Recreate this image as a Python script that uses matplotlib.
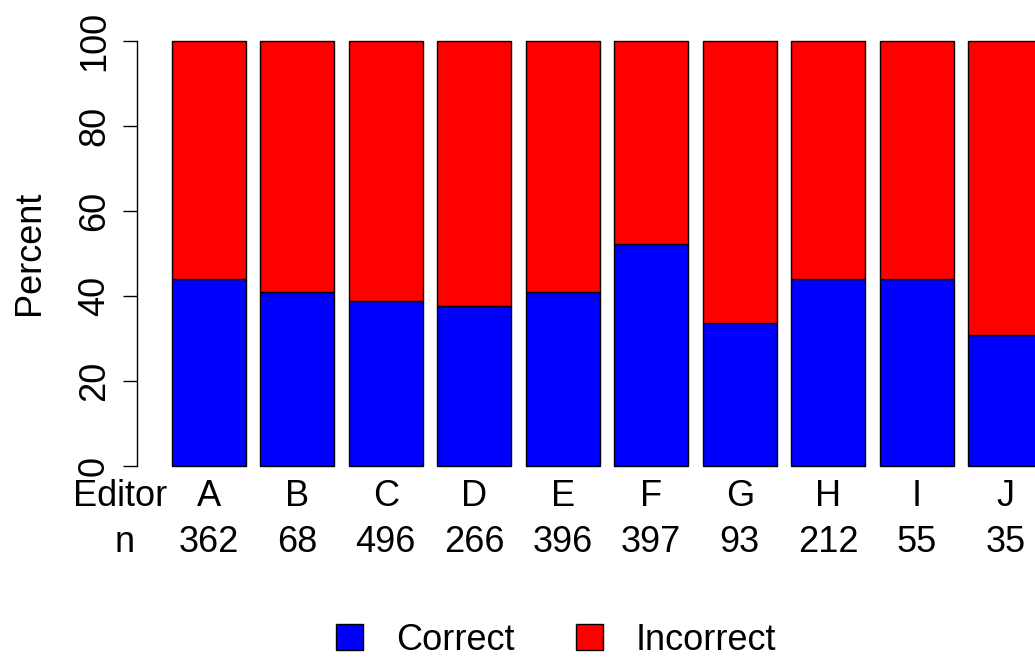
import numpy as np
import matplotlib
matplotlib.use('Agg')
import matplotlib.pyplot as plt
from matplotlib.patches import Patch
from matplotlib.transforms import blended_transform_factory

plt.rcParams['font.family'] = ['Liberation Sans', 'DejaVu Sans']

# data
editors = ['A', 'B', 'C', 'D', 'E', 'F', 'G', 'H', 'I', 'J']
n_counts = [362, 68, 496, 266, 396, 397, 93, 212, 55, 35]
correct = np.array([44.0, 41.0, 38.8, 37.7, 40.9, 52.2, 33.7, 43.9, 43.9, 30.8])
incorrect = 100 - correct

W, H = 1035, 663
FS = 26
fig = plt.figure(figsize=(W / 100, H / 100), dpi=100)

# axes placed in pixel terms, R style barplot (width 1, space 0.2)
x0, x1 = 137, 1077
y_top, y_bot = 24, 483
ax = fig.add_axes([x0 / W, 1 - y_bot / H, (x1 - x0) / W, (y_bot - y_top) / H])

pos = 0.7 + 1.2 * np.arange(len(editors))
ax.bar(pos, correct, width=1, color='#0000ff', edgecolor='black', linewidth=1)
ax.bar(pos, incorrect, width=1, bottom=correct, color='#ff0000',
       edgecolor='black', linewidth=1)

ax.set_xlim(-0.272, 12.472)
ax.set_ylim(-4, 104)

for s in ['top', 'right', 'bottom']:
    ax.spines[s].set_visible(False)
ax.spines['left'].set_bounds(0, 100)
ax.spines['left'].set_linewidth(1)
ax.set_xticks([])
ax.set_yticks([0, 20, 40, 60, 80, 100])
ax.tick_params(axis='y', length=10, width=1, pad=8, labelsize=FS,
               labelrotation=90)
for lab in ax.get_yticklabels():
    lab.set_verticalalignment('center')

fig.text(30 / W, 1 - 253 / H, 'Percent', rotation=90, fontsize=FS,
         ha='center', va='center')

# category rows under the bars
tr = blended_transform_factory(ax.transData, fig.transFigure)
for p, e, n in zip(pos, editors, n_counts):
    ax.text(p, 1 - 497 / H, e, transform=tr, ha='center', va='center',
            fontsize=FS, clip_on=False)
    ax.text(p, 1 - 542 / H, str(n), transform=tr, ha='center', va='center',
            fontsize=FS, clip_on=False)
fig.text(120 / W, 1 - 497 / H, 'Editor', ha='center', va='center', fontsize=FS)
fig.text(125 / W, 1 - 542 / H, 'n', ha='center', va='center', fontsize=FS)

handles = [Patch(facecolor='#0000ff', edgecolor='black', linewidth=1),
           Patch(facecolor='#ff0000', edgecolor='black', linewidth=1)]
fig.legend(handles, ['Correct', 'Incorrect'], loc='center',
           bbox_to_anchor=(556 / W, 1 - 640 / H), ncol=2, frameon=False,
           fontsize=FS, handlelength=0.75, handleheight=0.75,
           handletextpad=0.9, columnspacing=1.7)

fig.savefig('out.png', dpi=100)
